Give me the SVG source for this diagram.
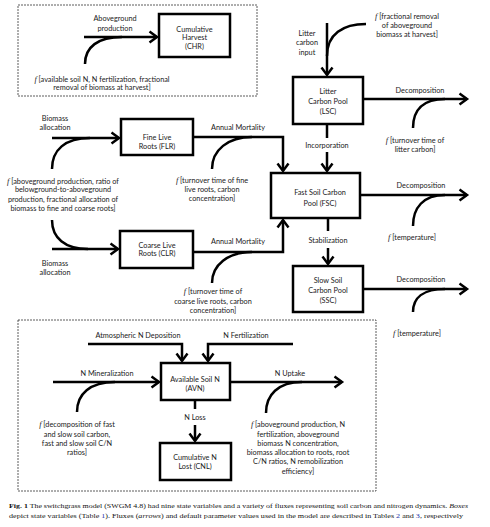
<svg xmlns="http://www.w3.org/2000/svg" width="490" height="527" viewBox="0 0 490 527">
<style>
.bg{fill:#fff}
.box{fill:#fff;stroke:#000;stroke-width:2.5}
.dash{fill:none;stroke:#333;stroke-width:0.8;stroke-dasharray:2,1}
.ln{fill:none;stroke:#000;stroke-width:2.5}
.ar{fill:none;stroke:#000;stroke-width:2.5;marker-end:url(#ah)}
text{font-family:Lato,"Liberation Sans",sans-serif;font-size:7.3px;fill:#1a1a1a;text-anchor:middle}
.f{font-family:"Liberation Serif",serif;font-style:italic;font-size:8.3px}
.cap{font-family:"Liberation Serif",serif;font-size:7px;text-anchor:start;fill:#111}
.b{font-weight:bold}
.i{font-style:italic}
.lk{fill:#2233aa}
</style>
<defs>
<marker id="ah" viewBox="0 0 12 14" refX="9" refY="7" markerWidth="12" markerHeight="14" markerUnits="userSpaceOnUse" orient="auto">
<path d="M1.5,1.5 L9,7 L1.5,12.5" fill="none" stroke="#000" stroke-width="2.5"/>
</marker>
</defs>
<rect class="bg" x="0" y="0" width="490" height="527"/>
<rect class="dash" x="18" y="5" width="239" height="91"/>
<rect class="dash" x="18" y="320" width="358" height="171"/>

<g id="connectors">
<path class="ar" d="M84,37 L157,37"/>
<path class="ln" d="M85,64 C85,47 98,37 122,37"/>
<path class="ar" d="M327,23 L327,75"/>
<path class="ln" d="M366,24 C343,24 327,34 327,56"/>
<path class="ar" d="M363,99 L467,99"/>
<path class="ln" d="M413,128 C413,110 423,99 445,99"/>
<path class="ln" d="M327,124 L327,138"/>
<path class="ar" d="M327,152 L327,171"/>
<path class="ar" d="M360,195 L467,195"/>
<path class="ln" d="M413,226 C413,208 423,195 445,195"/>
<path class="ln" d="M328,218 L328,231"/>
<path class="ar" d="M328,248 L328,264"/>
<path class="ar" d="M193,137 L283,137 L283,171"/>
<path class="ln" d="M212,169 C212,150 228,137 252,137"/>
<path class="ar" d="M193,252 L283,252 L283,220"/>
<path class="ln" d="M212,283 C212,265 228,252 252,252"/>
<path class="ar" d="M52,138 L119,138"/>
<path class="ln" d="M52,169 C52,150 65,138 90,138"/>
<path class="ln" d="M52,220 C52,238 65,249 88,249"/>
<path class="ar" d="M52,249 L118,249"/>
<path class="ar" d="M363,289 L467,289"/>
<path class="ln" d="M413,312 C413,298 423,289 445,289"/>
<path class="ar" d="M88,344 L182,344 L182,361"/>
<path class="ar" d="M293,344 L208,344 L208,361"/>
<path class="ar" d="M53,382 L159,382"/>
<path class="ln" d="M77,412 C77,394 90,382 115,382"/>
<path class="ar" d="M230,382 L342,382"/>
<path class="ln" d="M266,413 C266,395 278,382 302,382"/>
<path class="ln" d="M195,400 L195,409"/>
<path class="ar" d="M195,425 L195,441"/>
</g>

<g id="labels">
<text x="115" y="20.5">Aboveground</text>
<text x="115" y="30.5">production</text>
<text x="102" y="81.5"><tspan class="f">f</tspan> [available soil N, N fertilization, fractional</text>
<text x="102" y="89.5">removal of biomass at harvest]</text>
<text x="307" y="35.5">Litter</text>
<text x="307" y="44.5">carbon</text>
<text x="307" y="54.5">input</text>
<text x="407" y="18.5"><tspan class="f">f</tspan> [fractional removal</text>
<text x="407" y="27.5">of aboveground</text>
<text x="407" y="36.5">biomass at harvest]</text>
<text x="420" y="92.5">Decomposition</text>
<text x="415" y="142.5"><tspan class="f">f</tspan> [turnover time of</text>
<text x="415" y="151.5">litter carbon]</text>
<text x="327" y="147.5">Incorporation</text>
<text x="421" y="188">Decomposition</text>
<text x="412" y="240"><tspan class="f">f</tspan> [temperature]</text>
<text x="328" y="242.5">Stabilization</text>
<text x="238" y="129.5">Annual Mortality</text>
<text x="212" y="182.5"><tspan class="f">f</tspan> [turnover time of fine</text>
<text x="212" y="191.5">live roots, carbon</text>
<text x="212" y="201">concentration]</text>
<text x="238" y="243.5">Annual Mortality</text>
<text x="213" y="294"><tspan class="f">f</tspan> [turnover time of</text>
<text x="213" y="303.5">coarse live roots, carbon</text>
<text x="213" y="313">concentration]</text>
<text x="55" y="120.5">Biomass</text>
<text x="55" y="129.5">allocation</text>
<text x="63" y="183.5"><tspan class="f">f</tspan> [aboveground production, ratio of</text>
<text x="63" y="192">belowground-to-aboveground</text>
<text x="63" y="201.5">production, fractional allocation of</text>
<text x="63" y="210.5">biomass to fine and coarse roots]</text>
<text x="55" y="265.5">Biomass</text>
<text x="55" y="274.5">allocation</text>
<text x="421" y="282">Decomposition</text>
<text x="417" y="336"><tspan class="f">f</tspan> [temperature]</text>
<text x="138" y="337.5">Atmospheric N Deposition</text>
<text x="246" y="337.5">N Fertilization</text>
<text x="107" y="375.5">N Mineralization</text>
<text x="77" y="426.5"><tspan class="f">f</tspan> [decomposition of fast</text>
<text x="77" y="436.5">and slow soil carbon,</text>
<text x="77" y="445.5">fast and slow soil C/N</text>
<text x="77" y="454.5">ratios]</text>
<text x="290" y="375.5">N Uptake</text>
<text x="298" y="426.5"><tspan class="f">f</tspan> [aboveground production, N</text>
<text x="298" y="436.5">fertilization, aboveground</text>
<text x="298" y="445.5">biomass N concentration,</text>
<text x="298" y="454.5">biomass allocation to roots, root</text>
<text x="298" y="463.5">C/N ratios, N remobilization</text>
<text x="298" y="473.5">efficiency]</text>
<text x="195" y="419.5">N Loss</text>
</g>

<g id="CHR"><rect class="box" x="159" y="14" width="71" height="43"/>
<text x="194.5" y="31.5">Cumulative</text><text x="194.5" y="40">Harvest</text><text x="194.5" y="48.5">(CHR)</text></g>
<g id="LSC"><rect class="box" x="293" y="77" width="70" height="47"/>
<text x="328" y="93.5">Litter</text><text x="328" y="103.5">Carbon Pool</text><text x="328" y="113.5">(LSC)</text></g>
<g id="FLR"><rect class="box" x="121" y="119" width="72" height="36"/>
<text x="157" y="140">Fine Live</text><text x="157" y="148.5">Roots (FLR)</text></g>
<g id="FSC"><rect class="box" x="271" y="173" width="89" height="45"/>
<text x="320" y="194.7">Fast Soil Carbon</text><text x="320" y="205.7">Pool (FSC)</text></g>
<g id="CLR"><rect class="box" x="120" y="231" width="73" height="37"/>
<text x="157" y="247.7">Coarse Live</text><text x="157" y="255.7">Roots (CLR)</text></g>
<g id="SSC"><rect class="box" x="293" y="266" width="70" height="46"/>
<text x="328" y="282.5">Slow Soil</text><text x="328" y="292.5">Carbon Pool</text><text x="328" y="302.5">(SSC)</text></g>
<g id="AVN"><rect class="box" x="161" y="363" width="69" height="37"/>
<text x="195" y="381.5">Available Soil N</text><text x="195" y="390.5">(AVN)</text></g>
<g id="CNL"><rect class="box" x="160" y="443" width="71" height="37"/>
<text x="195" y="459.5">Cumulative N</text><text x="195" y="468.5">Lost (CNL)</text></g>

<g id="caption">
<text class="cap" x="9" y="507.5" textLength="459" lengthAdjust="spacingAndGlyphs"><tspan class="b">Fig. 1</tspan>  The switchgrass model (SWGM 4.8) had nine state variables and a variety of fluxes representing soil carbon and nitrogen dynamics. <tspan class="i">Boxes</tspan></text>
<text class="cap" x="9" y="517.5" textLength="454" lengthAdjust="spacingAndGlyphs">depict state variables (Table <tspan class="lk">1</tspan>). Fluxes (<tspan class="i">arrows</tspan>) and default parameter values used in the model are described in Tables <tspan class="lk">2</tspan> and <tspan class="lk">3</tspan>, respectively</text>
</g>
</svg>
